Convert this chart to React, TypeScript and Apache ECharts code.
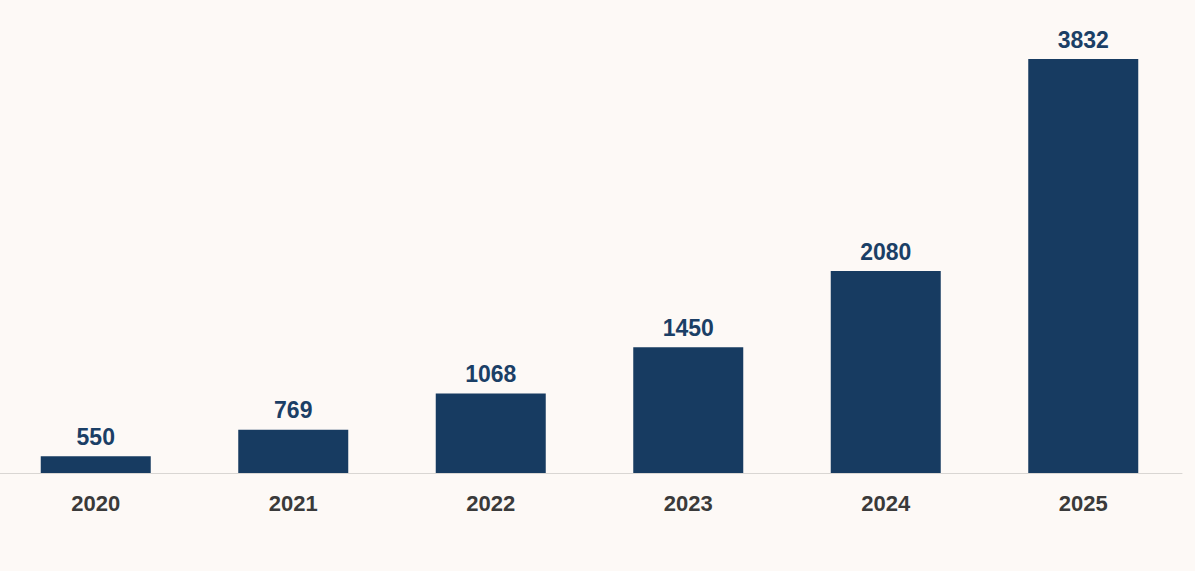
import { useEffect, useRef } from "react";
import * as echarts from "echarts";

const years = ["2020", "2021", "2022", "2023", "2024", "2025"];
const values = [550, 769, 1068, 1450, 2080, 3832];

export default function App() {
    const chartRef = useRef<HTMLDivElement | null>(null);

    useEffect(() => {
        if (!chartRef.current) return;
        const chart = echarts.init(chartRef.current, undefined, { renderer: "svg" });

        const option: echarts.EChartsOption = {
            animation: false,
            backgroundColor: "#fdf9f6",
            grid: { left: 0, right: 14, top: 59, bottom: 98, containLabel: false },
            xAxis: {
                type: "category",
                data: years,
                axisTick: { show: false },
                axisLine: { lineStyle: { color: "#d9d6d3", width: 1 } },
                axisLabel: {
                    color: "#3a3a3a",
                    fontSize: 22,
                    fontWeight: "bold",
                    fontFamily: "Liberation Sans, Arial, sans-serif",
                    margin: 19,
                },
            },
            yAxis: {
                type: "value",
                min: 412,
                max: 3832,
                show: false,
                splitLine: { show: false },
            },
            series: [
                {
                    type: "bar",
                    data: values,
                    barWidth: 110,
                    itemStyle: { color: "#173b61" },
                    label: {
                        show: true,
                        position: "top",
                        distance: 8,
                        color: "#1b3f66",
                        fontSize: 23,
                        fontWeight: "bold",
                        fontFamily: "Liberation Sans, Arial, sans-serif",
                    },
                },
            ],
        };

        chart.setOption(option);
        return () => chart.dispose();
    }, []);

    return (
        <div
            ref={chartRef}
            style={{ position: "fixed", left: "-3px", top: 0, width: "1199px", height: "571px" }}
        />
    );
}
